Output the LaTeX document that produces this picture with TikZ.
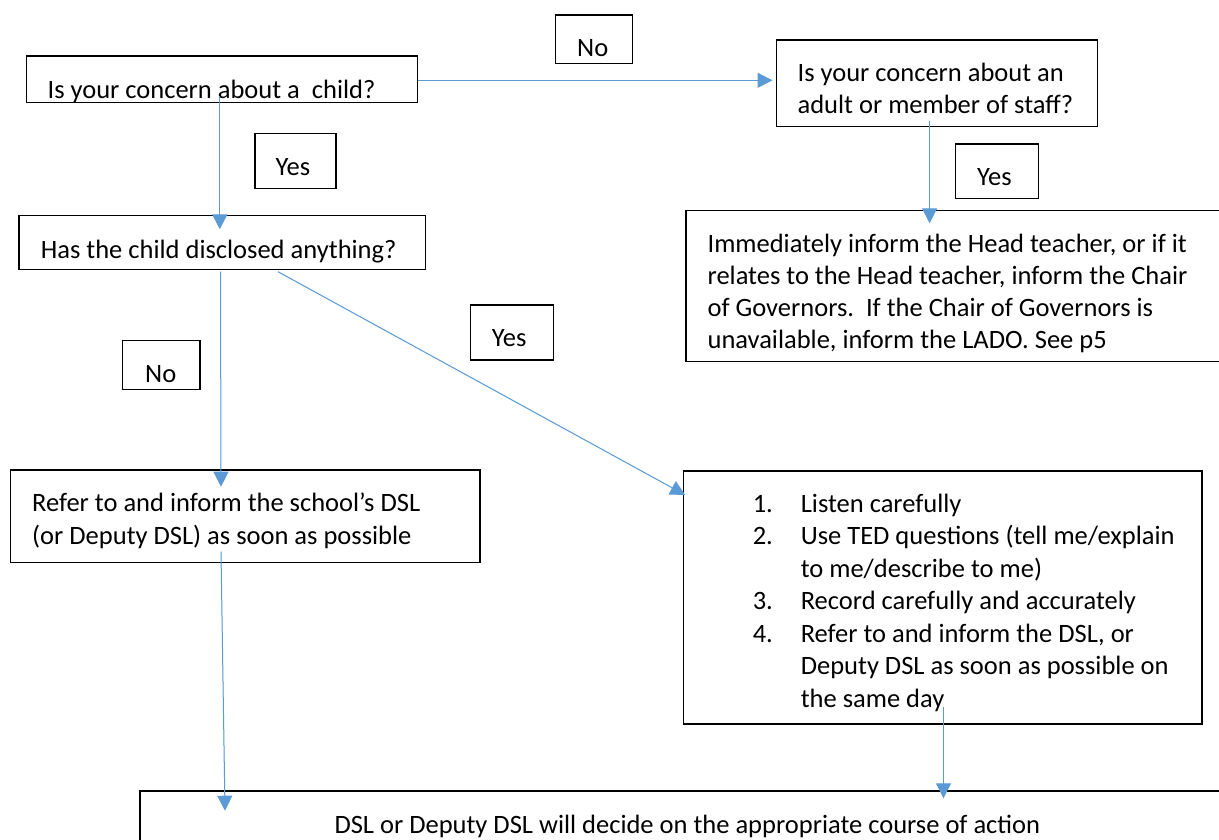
\documentclass[tikz,border=0pt]{standalone}
\usepackage{fontspec}
\setmainfont{Carlito}
\usetikzlibrary{arrows.meta,fit}
\definecolor{lnblue}{HTML}{5B9BD5}
\tikzset{
  box/.style={draw=black, line width=1.3pt, inner sep=0pt, rectangle},
  txt/.style={anchor=base west, inner sep=0pt, font=\fontsize{26.5}{32.3}\selectfont},
  conn/.style={draw=lnblue, line width=1pt, -{Triangle[length=15pt,width=15pt]}, fill=lnblue}
}
\begin{document}
\begin{tikzpicture}[x=1pt,y=-1pt]
\useasboundingbox (0,0) rectangle (1219,839);
\clip (0,0) rectangle (1219,839);
\fill[white] (0,0) rectangle (1219,839);

% boxes
\node[box, fit={(26.5,56) (417.5,102.7)}] (A) {};
\node[box, fit={(555.5,15) (632.8,63.3)}] (noTop) {};
\node[box, fit={(776.5,40) (1097.4,126.7)}] (adult) {};
\node[box, fit={(255,133.3) (336,188.3)}] (yesA) {};
\node[box, fit={(955.3,144) (1038.2,198.3)}] (yesB) {};
\node[box, fit={(19,215.3) (425.8,269.7)}] (B) {};
\node[box, fit={(686,210.5) (1240,361.5)}] (imm) {};
\node[box, fit={(470.7,305) (553.3,360)}] (yesC) {};
\node[box, fit={(122.7,340.7) (200,389.3)}] (noLeft) {};
\node[box, fit={(10.7,470) (480,562.7)}] (refer) {};
\node[box, fit={(683.2,471) (1202,724)}] (listen) {};
\node[box, fit={(140,791) (1250,870)}] (final) {};

% texts
\node[txt] (tA) at (47.4,98.3) {Is your concern about a\ \ child?};
\node[txt] (tNoTop) at (577,56.7) {No};
\node[txt] (tAd1) at (797.4,81.7) {Is your concern about an};
\node[txt] (tAd2) at (797.4,113.3) {adult or member of staff?};
\node[txt] (tYesA) at (275.5,175) {Yes};
\node[txt] (tYesB) at (977,185.7) {Yes};
\node[txt] (tB) at (40.7,258.3) {Has the child disclosed anything?};
\node[txt] (tI1) at (707.4,252) {Immediately inform the Head teacher, or if it};
\node[txt] (tI2) at (707.4,284) {relates to the Head teacher, inform the Chair};
\node[txt] (tI3) at (707.4,316) {of Governors.\ \ If the Chair of Governors is};
\node[txt] (tI4) at (707.4,348) {unavailable, inform the LADO. See p5};
\node[txt] (tYesC) at (491.7,346.7) {Yes};
\node[txt] (tNoLeft) at (145,382.3) {No};
\node[txt] (tR1) at (32,511.7) {Refer to and inform the school’s DSL};
\node[txt] (tR2) at (32,544) {(or Deputy DSL) as soon as possible};
\node[txt] (n1) at (752.6,512) {1.};
\node[txt] (l1) at (800.6,512) {Listen carefully};
\node[txt] (n2) at (752.6,544.5) {2.};
\node[txt] (l2) at (800.6,544.5) {Use TED questions (tell me/explain};
\node[txt] (l2b) at (800.6,577) {to me/describe to me)};
\node[txt] (n3) at (752.6,609.5) {3.};
\node[txt] (l3) at (800.6,609.5) {Record carefully and accurately};
\node[txt] (n4) at (752.6,642) {4.};
\node[txt] (l4) at (800.6,642) {Refer to and inform the DSL, or};
\node[txt] (l4b) at (800.6,674.5) {Deputy DSL as soon as possible on};
\node[txt] (l4c) at (800.6,707) {the same day};
\node[txt] (tF) at (334.3,833.3) {DSL or Deputy DSL will decide on the appropriate course of action};

% connector end points
\coordinate (cA1) at (417.5,80.3);
\coordinate (cAd) at (772.5,80.3);
\coordinate (cA2) at (219.8,96);
\coordinate (cB) at (219.8,229.3);
\coordinate (cAd2) at (929.6,120.7);
\coordinate (cImm) at (929.6,223.3);
\coordinate (cB1) at (220.5,271.7);
\coordinate (cR) at (221,486.7);
\coordinate (cB2) at (278,271.7);
\coordinate (cL) at (685.3,495);
\coordinate (cR2) at (221,551.7);
\coordinate (cF1) at (225,810.7);
\coordinate (cL2) at (943.5,706.7);
\coordinate (cF2) at (943.5,798.3);

\draw[conn] (cA1) -- (cAd);
\draw[conn] (cA2) -- (cB);
\draw[conn] (cAd2) -- (cImm);
\draw[conn] (cB1) -- (cR);
\draw[conn] (cB2) -- (cL);
\draw[conn] (cR2) -- (cF1);
\draw[conn] (cL2) -- (cF2);
\end{tikzpicture}
\end{document}
